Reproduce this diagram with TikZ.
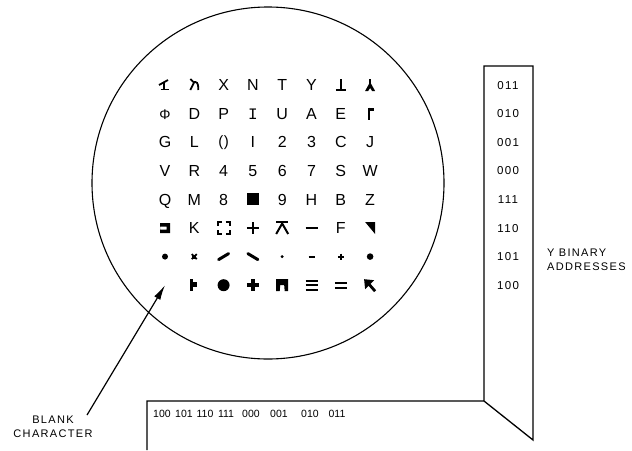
\documentclass[tikz,border=0pt]{standalone}
\usepackage{fontspec}
\setmainfont{Liberation Sans}
\newfontfamily\monofnt{Liberation Mono}
\usetikzlibrary{arrows.meta}
\tikzset{
  glyph/.style={font=\fontsize{16}{16}\selectfont, inner sep=0pt, anchor=base, yshift=-5.7pt},
  addr/.style={font=\fontsize{11.5}{11.5}\selectfont\addfontfeature{LetterSpace=12}, inner sep=0pt, anchor=base, yshift=-4pt},
  xaddr/.style={font=\fontsize{10.5}{10.5}\selectfont, inner sep=0pt, anchor=base, yshift=-4pt},
  capt/.style={font=\fontsize{11}{14}\selectfont\addfontfeature{LetterSpace=12}, inner sep=0pt},
  heavy/.style={line width=1.8pt},
  frame/.style={line width=1.3pt, line join=miter},
  arr/.style={line width=1.2pt, -{Latex[length=15pt,width=7pt]}},
}
\begin{document}
\begin{tikzpicture}[x=1pt,y=-1pt]
\useasboundingbox (0,0) rectangle (632,450);
% CRT face
\node[draw, circle, line width=1.1pt, minimum size=352pt, inner sep=0pt] (crt) at (268,183) {};
% grid positions
\foreach \r in {1,...,8}
  \foreach \c in {1,...,8}
    \coordinate (g-\r-\c) at ({165+29.3*(\c-1)},{85+28.6*(\r-1)});
% letter characters
\foreach \r/\c/\t in {1/3/X,1/4/N,1/5/T,1/6/Y,
  2/2/D,2/3/P,2/5/U,2/6/A,2/7/E,
  3/1/G,3/2/L,3/4/I,3/5/2,3/6/3,3/7/C,3/8/J,
  4/1/V,4/2/R,4/3/4,4/4/5,4/5/6,4/6/7,4/7/S,4/8/W,
  5/1/Q,5/2/M,5/3/8,5/5/9,5/6/H,5/7/B,5/8/Z,
  6/2/K,6/7/F}
  \node[glyph] (t-\r-\c) at (g-\r-\c) {\t};
\node[glyph, font=\fontsize{14}{14}\selectfont] (t-2-1) at (g-2-1) {Φ};
\node[glyph, font=\monofnt\fontsize{16}{16}\selectfont] (t-2-4) at (g-2-4) {I};
\node[glyph, font=\fontsize{15}{15}\selectfont, yshift=1pt] (t-3-3) at (g-3-3) {(\kern0.5pt)};
% special symbols
\begin{scope}[shift={(g-1-1)}]
  \draw[heavy] (-6,0) -- (3,-5); \draw[heavy] (-1,-2) -- (-1,4.5); \draw[heavy] (-4.5,4.5) -- (4,4.5);
\end{scope}
\begin{scope}[shift={(g-1-2)}]
  \draw[heavy] (-4,-6) -- (-1,-3);
  \draw[heavy] (-4,5) -- (0,-3) -- (1,-3) .. controls (4,-3) and (4,2) .. (4,5);
\end{scope}
\begin{scope}[shift={(g-1-7)}]
  \draw[heavy, line width=1.6pt] (0,-6) -- (0,5) (-5,5) -- (5,5);
\end{scope}
\begin{scope}[shift={(g-1-8)}]
  \draw[heavy] (0,-6) -- (0,0);
  \fill (0,-3) -- (-5,6) -- (-2,6) -- (0,3) -- (2,6) -- (5,6) -- cycle;
\end{scope}
\begin{scope}[shift={(g-2-8)}]
  \fill (-2,-6) rectangle (4,-2.5); \draw[heavy] (-1,-6) -- (-1,6);
\end{scope}
\begin{scope}[shift={(g-5-4)}]
  \fill (-6,-6) rectangle (6,6);
\end{scope}
\begin{scope}[shift={(g-6-1)}]
  \fill[even odd rule] (-5,-5) rectangle (5,5) (-5,-1.5) rectangle (1.5,1.5);
\end{scope}
\begin{scope}[shift={(g-6-3)}]
  \draw[line width=2pt] (-6,-2) -- (-6,-6) -- (-2,-6) (2,-6) -- (6,-6) -- (6,-2)
    (6,2) -- (6,6) -- (2,6) (-2,6) -- (-6,6) -- (-6,2);
\end{scope}
\begin{scope}[shift={(g-6-4)}]
  \draw[heavy] (-6,0) -- (6,0) (0,-6) -- (0,6);
\end{scope}
\begin{scope}[shift={(g-6-5)}]
  \draw[line width=2pt] (-6,-6) -- (6,-6);
  \draw[line width=2pt] (-6,6) -- (0,-4.5) -- (6,6);
\end{scope}
\begin{scope}[shift={(g-6-6)}]
  \draw[heavy] (-6,0) -- (6,0);
\end{scope}
\begin{scope}[shift={(g-6-8)}]
  \fill (-5,-6) -- (5,-6) -- (5,6) -- cycle;
\end{scope}
\begin{scope}[shift={(g-7-1)}] \fill (0,0) circle (3); \end{scope}
\begin{scope}[shift={(g-7-2)}]
  \fill (-2,-2) rectangle (2,2);
  \draw[heavy] (-2.5,-2.5) -- (2.5,2.5) (-2.5,2.5) -- (2.5,-2.5);
\end{scope}
\begin{scope}[shift={(g-7-3)}] \draw[line width=3pt, line cap=round] (-5,3) -- (5,-3); \end{scope}
\begin{scope}[shift={(g-7-4)}] \draw[line width=3pt, line cap=round] (-5,-3) -- (5,3); \end{scope}
\begin{scope}[shift={(g-7-5)}] \fill (0,0) circle (1.6); \end{scope}
\begin{scope}[shift={(g-7-6)}] \draw[heavy] (-3,0) -- (3,0); \end{scope}
\begin{scope}[shift={(g-7-7)}] \draw[heavy] (-3,0) -- (3,0) (0,-3) -- (0,3); \end{scope}
\begin{scope}[shift={(g-7-8)}] \fill (0,0) circle (3.3); \end{scope}
\begin{scope}[shift={(g-8-2)}]
  \draw[line width=2.5pt] (-3,-6) -- (-3,6); \fill (-3,-3) rectangle (3,2);
\end{scope}
\begin{scope}[shift={(g-8-3)}] \fill (0,0) circle (6); \end{scope}
\begin{scope}[shift={(g-8-4)}] \draw[line width=4pt] (-6,0) -- (6,0) (0,-6) -- (0,6); \end{scope}
\begin{scope}[shift={(g-8-5)}]
  \fill (-6,6) -- (-6,-6) -- (6,-6) -- (6,6) -- (2.5,6) -- (2,0) -- (-2,0) -- (-2.5,6) -- cycle;
\end{scope}
\begin{scope}[shift={(g-8-6)}]
  \draw[line width=1.6pt] (-6,-4.5) -- (6,-4.5) (-6,0) -- (6,0) (-6,4.5) -- (6,4.5);
\end{scope}
\begin{scope}[shift={(g-8-7)}]
  \draw[heavy] (-6,-2.5) -- (6,-2.5) (-6,2.5) -- (6,2.5);
\end{scope}
\begin{scope}[shift={(g-8-8)}]
  \fill (-6,-6) -- (4,-5) -- (-5,4) -- cycle; \draw[line width=2.8pt] (-2,-2) -- (5,6);
\end{scope}
% address strips
\coordinate (xl) at (147,450);
\coordinate (xt) at (147,401);
\coordinate (yb) at (484,401);
\coordinate (yd) at (533,440);
\coordinate (ytr) at (533,66);
\coordinate (ytl) at (484,66);
\draw[frame] (xl) -- (xt) -- (yb) -- (yd) -- (ytr) -- (ytl) -- (yb);
% Y addresses
\foreach \r/\t in {1/011,2/010,3/001,4/000,5/111,6/110,7/101,8/100}
  \node[addr] (ya-\r) at (508,{85+28.6*(\r-1)}) {\t};
% X addresses
\foreach \i/\x/\t in {1/162/100,2/184/101,3/205/110,4/226/111,5/251/000,6/279/001,7/310/010,8/337/011}
  \node[xaddr] (xa-\i) at (\x,413) {\t};
% labels
\node[capt, align=left, anchor=west] (ylab) at (547,260) {Y BINARY\\ADDRESSES};
\node[capt, align=center] (blab) at (53,427) {BLANK\\CHARACTER};
\coordinate (tail) at (87,415);
\draw[arr] (tail) -- (g-8-1);
\end{tikzpicture}
\end{document}
